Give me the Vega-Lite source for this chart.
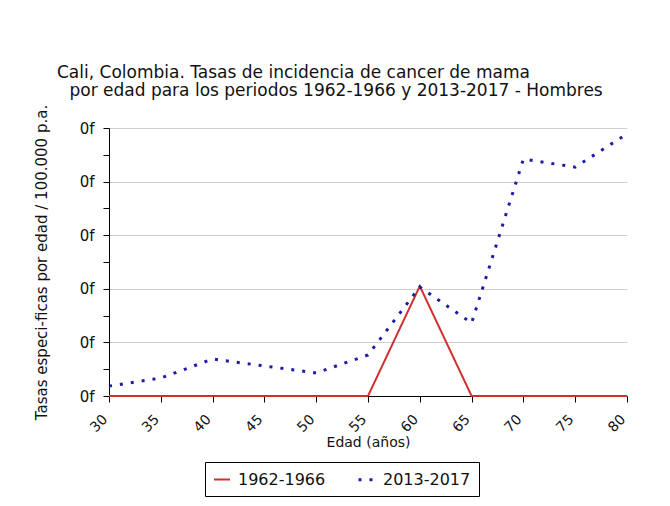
{
  "$schema": "https://vega.github.io/schema/vega-lite/v6.json",
  "width": 518,
  "height": 268,
  "autosize": {"type": "none"},
  "padding": {"left": 109, "top": 128, "right": 43, "bottom": 110},
  "background": "white",
  "title": {
    "text": ["Cali, Colombia. Tasas de incidencia de cancer de mama", "\u2800por edad para los periodos 1962-1966 y 2013-2017 - Hombres"],
    "anchor": "start",
    "frame": "group",
    "dx": -52,
    "offset": 4,
    "font": "DejaVu Sans",
    "fontSize": 17,
    "fontWeight": "normal",
    "color": "#111111",
    "lineHeight": 18
  },
  "data": {
    "values": [
      {"edad": 30, "periodo": "1962-1966", "tasa": 0},
      {"edad": 35, "periodo": "1962-1966", "tasa": 0},
      {"edad": 40, "periodo": "1962-1966", "tasa": 0},
      {"edad": 45, "periodo": "1962-1966", "tasa": 0},
      {"edad": 50, "periodo": "1962-1966", "tasa": 0},
      {"edad": 55, "periodo": "1962-1966", "tasa": 0},
      {"edad": 60, "periodo": "1962-1966", "tasa": 4.1},
      {"edad": 65, "periodo": "1962-1966", "tasa": 0},
      {"edad": 70, "periodo": "1962-1966", "tasa": 0},
      {"edad": 75, "periodo": "1962-1966", "tasa": 0},
      {"edad": 80, "periodo": "1962-1966", "tasa": 0},
      {"edad": 30, "periodo": "2013-2017", "tasa": 0.37},
      {"edad": 35, "periodo": "2013-2017", "tasa": 0.67},
      {"edad": 40, "periodo": "2013-2017", "tasa": 1.38},
      {"edad": 45, "periodo": "2013-2017", "tasa": 1.12},
      {"edad": 50, "periodo": "2013-2017", "tasa": 0.86},
      {"edad": 55, "periodo": "2013-2017", "tasa": 1.53},
      {"edad": 60, "periodo": "2013-2017", "tasa": 4.07},
      {"edad": 65, "periodo": "2013-2017", "tasa": 2.72},
      {"edad": 70, "periodo": "2013-2017", "tasa": 8.84},
      {"edad": 75, "periodo": "2013-2017", "tasa": 8.54},
      {"edad": 80, "periodo": "2013-2017", "tasa": 9.78}
    ]
  },
  "mark": {"type": "line", "strokeCap": "butt"},
  "encoding": {
    "x": {
      "field": "edad",
      "type": "quantitative",
      "scale": {"domain": [30, 80], "nice": false, "zero": false},
      "axis": {
        "title": "Edad (años)",
        "values": [30, 35, 40, 45, 50, 55, 60, 65, 70, 75, 80],
        "labelAngle": -45,
        "labelFontSize": 14,
        "grid": false,
        "tickSize": 6,
        "labelPadding": 10,
        "labelOffset": -9,
        "titlePadding": 1
      }
    },
    "y": {
      "field": "tasa",
      "type": "quantitative",
      "scale": {"domain": [0, 10], "nice": false},
      "axis": {
        "title": "Tasas especi-ficas por edad / 100.000 p.a.",
        "values": [0, 1, 2, 3, 4, 5, 6, 7, 8, 9, 10],
        "labelExpr": "datum.value % 2 === 0 ? '0f' : ''",
        "gridOpacity": {"condition": {"test": "datum.value % 2 === 0", "value": 1}, "value": 0},
        "tickSize": 6,
        "labelFontSize": 15,
        "labelPadding": 9,
        "titleFontSize": 15,
        "titlePadding": 30
      }
    },
    "color": {
      "field": "periodo",
      "type": "nominal",
      "scale": {"domain": ["1962-1966", "2013-2017"], "range": ["#d32f2f", "#1c1ca8"]},
      "legend": {
        "title": null,
        "orient": "none",
        "legendX": 96,
        "legendY": 334,
        "direction": "horizontal",
        "strokeColor": "#000000",
        "fillColor": "white",
        "padding": 8,
        "symbolType": "stroke",
        "symbolSize": 256,
        "labelFont": "DejaVu Sans",
        "labelFontSize": 16,
        "labelColor": "#111111",
        "labelOffset": 7,
        "columnPadding": 26
      }
    },
    "strokeDash": {
      "field": "periodo",
      "type": "nominal",
      "scale": {"domain": ["1962-1966", "2013-2017"], "range": [[1, 0], [3, 8]]},
      "legend": null
    },
    "strokeWidth": {
      "field": "periodo",
      "type": "nominal",
      "scale": {"domain": ["1962-1966", "2013-2017"], "range": [2, 3]},
      "legend": null
    }
  },
  "config": {
    "font": "DejaVu Sans",
    "view": {"stroke": null},
    "axis": {
      "domainColor": "#000000",
      "tickColor": "#000000",
      "gridColor": "#cfcfcf",
      "labelFont": "DejaVu Sans",
      "labelFontSize": 13,
      "labelColor": "#111111",
      "titleFont": "DejaVu Sans",
      "titleFontSize": 14,
      "titleFontWeight": "normal",
      "titleColor": "#111111"
    }
  }
}
